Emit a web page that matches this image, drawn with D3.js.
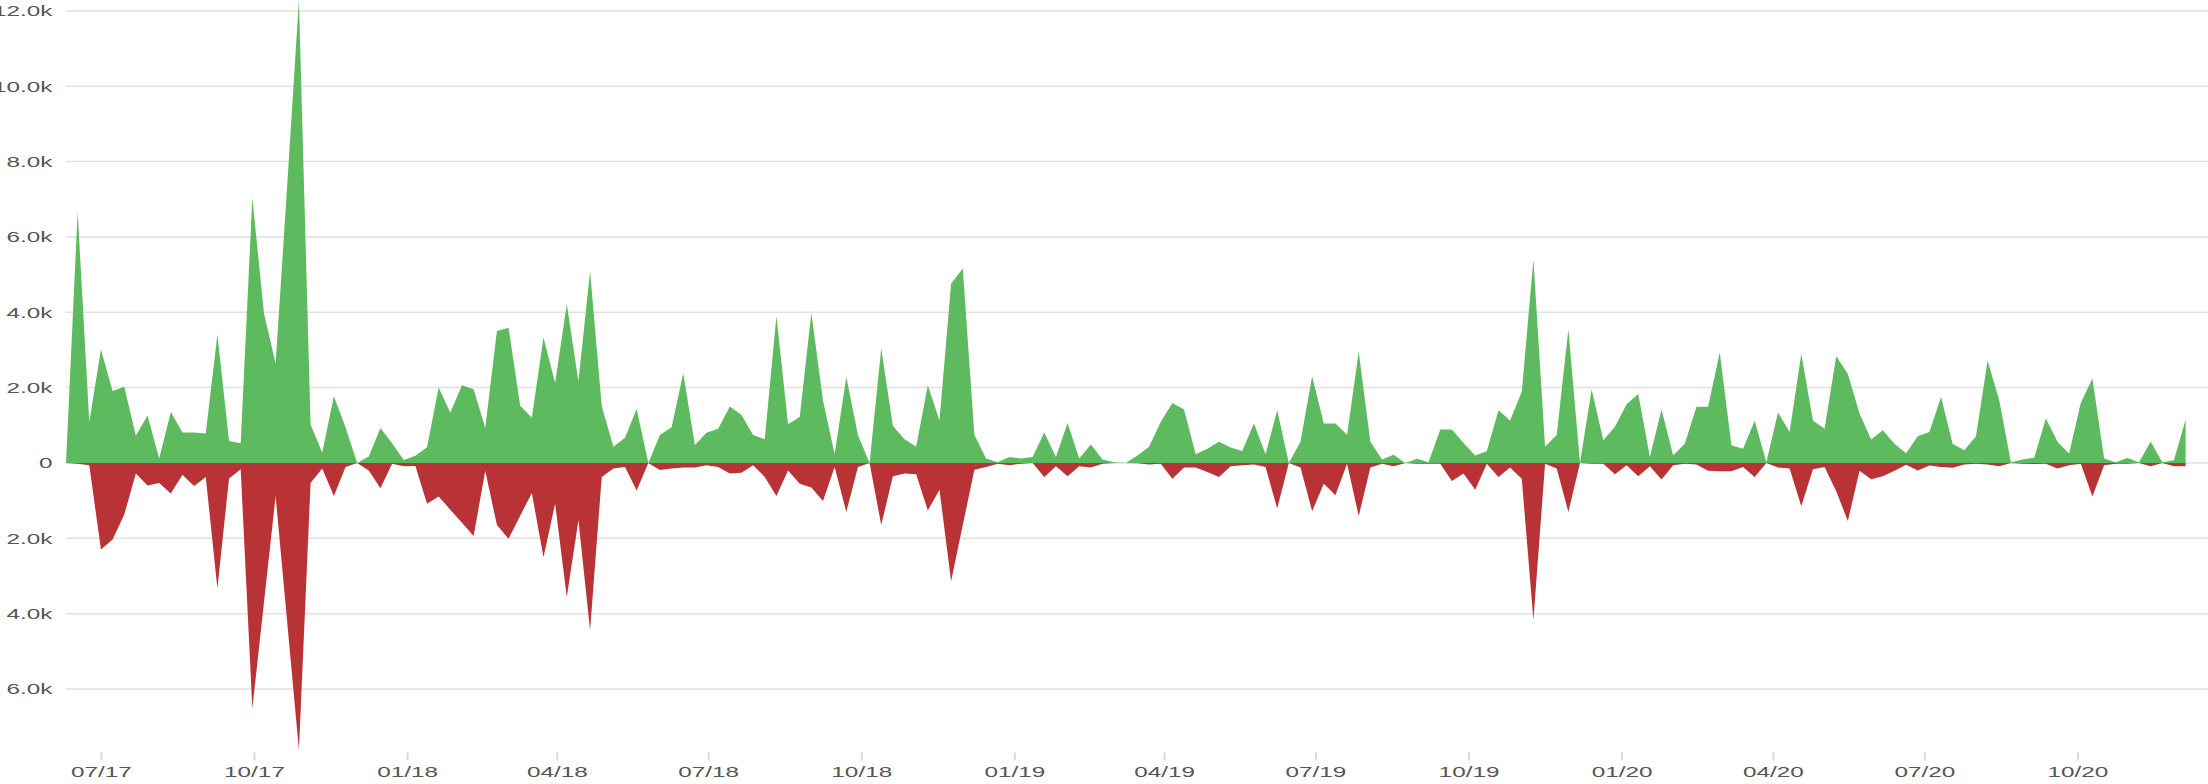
<!DOCTYPE html>
<html>
<head>
<meta charset="utf-8">
<script src="https://cdn.jsdelivr.net/npm/d3@7"></script>
<style>
  body { margin: 0; background: #fff; }
  svg { display: block; }
  .tick-label { font-family: "Liberation Sans", Arial, sans-serif; font-size: 15px; fill: #555; }
</style>
</head>
<body>
<div id="chart"></div>
<script>
// weekly buckets, first one on 2017-06-10, last on 2020-12-05
var firstWeek = new Date(2017, 5, 10),
    afterLastWeek = new Date(2020, 11, 6);

// green area (above zero), one value per week
var inflow = [
  0, 6670, 1090, 3010, 1910, 2020, 720, 1260, 120, 1350,
  810, 810, 780, 3410, 580, 520, 7040, 3970, 2640, 7400,
  12290, 1020, 270, 1770, 950, 0, 170, 930, 520, 80,
  190, 420, 2000, 1330, 2060, 1960, 930, 3500, 3590, 1520,
  1200, 3330, 2120, 4210, 2170, 5080, 1510, 430, 670, 1430,
  0, 740, 950, 2380, 480, 800, 910, 1500, 1270, 740,
  630, 3900, 1030, 1220, 3980, 1660, 230, 2280, 740, 0,
  3040, 980, 630, 430, 2060, 1130, 4760, 5160, 740, 120,
  20, 160, 120, 160, 810, 160, 1060, 120, 490, 90,
  20, 0, 200, 430, 1090, 1590, 1420, 230, 380, 560,
  410, 320, 1050, 230, 1400, 0, 560, 2300, 1050, 1050,
  750, 2950, 560, 90, 220, 0, 110, 20, 890, 890,
  530, 200, 310, 1400, 1130, 1890, 5400, 430, 740, 3540,
  0, 1950, 600, 960, 1560, 1830, 160, 1420, 200, 510,
  1490, 1490, 2930, 470, 380, 1120, 20, 1340, 820, 2900,
  1130, 910, 2830, 2360, 1310, 620, 870, 510, 260, 710,
  820, 1750, 500, 340, 710, 2710, 1660, 20, 90, 140,
  1180, 560, 250, 1590, 2240, 120, 20, 130, 20, 560,
  20, 70, 1150
];

// red area (drawn below zero), magnitudes per week
var outflow = [
  0, 20, 60, 2300, 2030, 1370, 280, 600, 530, 810,
  310, 610, 370, 3330, 410, 170, 6520, 3700, 880, 4250,
  7620, 530, 150, 880, 110, 0, 200, 670, 20, 90,
  80, 1080, 890, 1240, 1590, 1940, 210, 1650, 2010, 1400,
  800, 2500, 1080, 3560, 1520, 4440, 370, 150, 110, 730,
  0, 190, 150, 120, 120, 60, 110, 280, 260, 60,
  370, 880, 200, 550, 650, 1010, 110, 1300, 110, 0,
  1650, 350, 280, 300, 1260, 710, 3140, 1650, 180, 110,
  20, 60, 20, 0, 370, 90, 350, 90, 120, 20,
  0, 0, 10, 40, 20, 420, 120, 120, 240, 370,
  90, 60, 40, 110, 1210, 0, 120, 1280, 550, 860,
  20, 1410, 120, 20, 90, 0, 20, 20, 20, 480,
  280, 710, 20, 370, 120, 420, 4170, 20, 150, 1300,
  0, 20, 20, 300, 60, 350, 90, 440, 60, 20,
  40, 210, 220, 220, 110, 370, 0, 120, 150, 1150,
  170, 110, 750, 1540, 210, 430, 350, 210, 50, 200,
  70, 110, 130, 40, 20, 40, 90, 0, 20, 30,
  20, 150, 60, 20, 890, 60, 20, 20, 0, 90,
  0, 90, 90
];

var yTicks = [-6000, -4000, -2000, 0, 2000, 4000, 6000, 8000, 10000, 12000];

function drawChart() {
    var width = 2208,
        height = 784,
        plotLeft = 66,
        plotRight = 2185.6,
        plotTop = 0,
        plotBottom = 750,
        gridRight = 2208,
        stretch = 1.62; // the labels in the picture are wide

    var weeks = d3.timeDay.range(firstWeek, afterLastWeek, 7);

    var data = weeks.map(function (d, i) {
        return { date: d, up: inflow[i], down: outflow[i] };
    });

    var x = d3.scaleTime()
        .domain([weeks[0], weeks[weeks.length - 1]])
        .range([plotLeft, plotRight]);

    var y = d3.scaleLinear()
        .domain([-d3.max(outflow), d3.max(inflow)])
        .range([plotBottom, plotTop]);

    var svg = d3.select("#chart")
        .append("svg")
        .attr("width", width)
        .attr("height", height);

    // grid
    svg.append("g")
        .selectAll("line")
        .data(yTicks)
        .enter()
        .append("line")
        .attr("x1", plotLeft)
        .attr("x2", gridRight)
        .attr("y1", function (d) { return y(d); })
        .attr("y2", function (d) { return y(d); })
        .attr("stroke", "#e1e1e1")
        .attr("stroke-width", 1.5);

    // y labels, no minus sign below zero
    svg.append("g")
        .selectAll("text")
        .data(yTicks)
        .enter()
        .append("text")
        .attr("class", "tick-label")
        .attr("text-anchor", "end")
        .attr("dy", "0.36em")
        .attr("transform", function (d) {
            return "translate(52.5," + y(d) + ") scale(" + stretch + ",1)";
        })
        .text(function (d) {
            return d == 0 ? "0" : d3.format(".1f")(Math.abs(d) / 1000) + "k";
        });

    var upArea = d3.area()
        .x(function (d) { return x(d.date); })
        .y0(y(0))
        .y1(function (d) { return y(d.up); });

    var downArea = d3.area()
        .x(function (d) { return x(d.date); })
        .y0(y(0))
        .y1(function (d) { return y(-d.down); });

    svg.append("path")
        .datum(data)
        .attr("d", upArea)
        .attr("fill", "#5eba5e");

    svg.append("path")
        .datum(data)
        .attr("d", downArea)
        .attr("fill", "#b93235");

    // x axis: quarter ticks
    var xAxis = d3.axisBottom(x)
        .ticks(d3.timeMonth.every(3))
        .tickFormat(d3.timeFormat("%m/%y"))
        .tickSize(8)
        .tickPadding(6);

    var gx = svg.append("g")
        .attr("transform", "translate(0,752.5)")
        .call(xAxis);

    gx.select(".domain").remove();
    gx.selectAll(".tick line")
        .attr("stroke", "#d8d8d8")
        .attr("stroke-width", 2);
    gx.selectAll(".tick text")
        .attr("class", "tick-label")
        .attr("fill", null)
        .attr("transform", "scale(" + stretch + ",1)");
    gx.attr("font-family", null).attr("font-size", null);
}

drawChart();
</script>
</body>
</html>
